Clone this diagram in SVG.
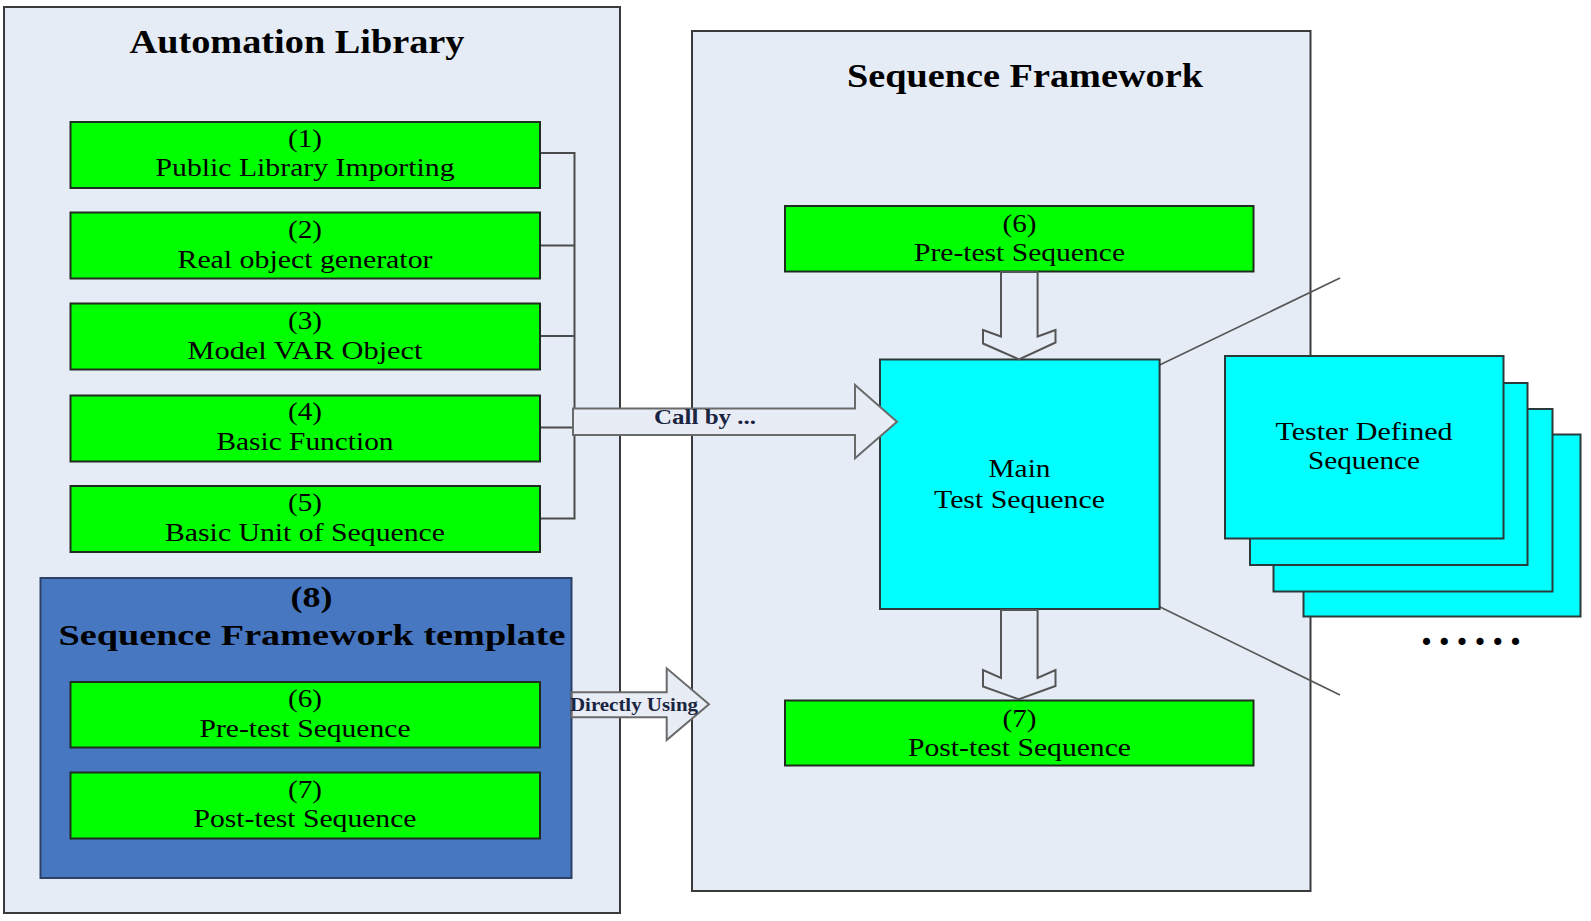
<svg xmlns="http://www.w3.org/2000/svg" width="1591" height="921" viewBox="0 0 1591 921">
<style>
.panel{fill:#e6ecf6;stroke:#3a3a3a;stroke-width:2}
.g{fill:#00ff00;stroke:#1e2e1e;stroke-width:2}
.c{fill:#00ffff;stroke:#2a3a3a;stroke-width:2}
.blue{fill:#4677c0;stroke:#2c4068;stroke-width:2}
.t{font-family:"Liberation Serif","Times New Roman",serif;fill:#000;text-anchor:middle}
.n{font-size:25px}
.h{font-size:33px;font-weight:bold}
.b{font-family:"Liberation Serif","Times New Roman",serif;font-weight:bold;fill:#1a2542}
.arr{fill:#e8ecf4;stroke:#6a6a6a;stroke-width:2}
.darr{fill:#e6ecf6;stroke:#555;stroke-width:2}
.ln{fill:none;stroke:#4a4a4a;stroke-width:2}
.zl{fill:none;stroke:#555;stroke-width:1.6}
</style>
<rect width="1591" height="921" fill="#fff"/>
<g id="automation-library">
<rect class="panel" x="4" y="7" width="616" height="906"/>
<text class="t h" x="297" y="53" textLength="335" lengthAdjust="spacingAndGlyphs">Automation Library</text>
</g>
<g id="sequence-framework">
<rect class="panel" x="692" y="31" width="618.5" height="860"/>
<text class="t h" x="1025" y="87" textLength="356" lengthAdjust="spacingAndGlyphs">Sequence Framework</text>
</g>
<g id="connectors">
<path class="ln" d="M540 153H574.5V518.5H540M540 245.5H574.5M540 336H574.5M540 427.5H574.5"/>
<path class="zl" d="M1159.6 365L1340 278M1159.6 606.7L1340 695"/>
</g>
<g id="n1"><rect class="g" x="70.5" y="122" width="469.5" height="66"/>
<text class="t n" x="305" y="147" textLength="34" lengthAdjust="spacingAndGlyphs">(1)</text>
<text class="t n" x="305" y="176" textLength="299" lengthAdjust="spacingAndGlyphs">Public Library Importing</text></g>
<g id="n2"><rect class="g" x="70.5" y="212.5" width="469.5" height="66"/>
<text class="t n" x="305" y="238" textLength="34" lengthAdjust="spacingAndGlyphs">(2)</text>
<text class="t n" x="305" y="268" textLength="255" lengthAdjust="spacingAndGlyphs">Real object generator</text></g>
<g id="n3"><rect class="g" x="70.5" y="303.5" width="469.5" height="66"/>
<text class="t n" x="305" y="329" textLength="34" lengthAdjust="spacingAndGlyphs">(3)</text>
<text class="t n" x="305" y="358.5" textLength="235" lengthAdjust="spacingAndGlyphs">Model VAR Object</text></g>
<g id="n4"><rect class="g" x="70.5" y="395.5" width="469.5" height="66"/>
<text class="t n" x="305" y="420" textLength="34" lengthAdjust="spacingAndGlyphs">(4)</text>
<text class="t n" x="305" y="449.5" textLength="177" lengthAdjust="spacingAndGlyphs">Basic Function</text></g>
<g id="n5"><rect class="g" x="70.5" y="486" width="469.5" height="66"/>
<text class="t n" x="305" y="510.5" textLength="34" lengthAdjust="spacingAndGlyphs">(5)</text>
<text class="t n" x="305" y="541" textLength="280" lengthAdjust="spacingAndGlyphs">Basic Unit of Sequence</text></g>
<g id="n8"><rect class="blue" x="40.5" y="578" width="531" height="300"/>
<text class="t" x="311.5" y="606.5" font-size="30" font-weight="bold" textLength="42" lengthAdjust="spacingAndGlyphs">(8)</text>
<text class="t" x="312" y="645" font-size="30" font-weight="bold" textLength="507" lengthAdjust="spacingAndGlyphs">Sequence Framework template</text></g>
<g id="n8-6"><rect class="g" x="70.5" y="682" width="469.5" height="65.5"/>
<text class="t n" x="305" y="707" textLength="34" lengthAdjust="spacingAndGlyphs">(6)</text>
<text class="t n" x="305" y="736.5" textLength="211" lengthAdjust="spacingAndGlyphs">Pre-test Sequence</text></g>
<g id="n8-7"><rect class="g" x="70.5" y="772.5" width="469.5" height="66"/>
<text class="t n" x="305" y="797.5" textLength="34" lengthAdjust="spacingAndGlyphs">(7)</text>
<text class="t n" x="305" y="827" textLength="223" lengthAdjust="spacingAndGlyphs">Post-test Sequence</text></g>
<g id="pre-test"><rect class="g" x="785" y="206" width="468.5" height="65.5"/>
<text class="t n" x="1019.5" y="231.5" textLength="34" lengthAdjust="spacingAndGlyphs">(6)</text>
<text class="t n" x="1019.5" y="261" textLength="211" lengthAdjust="spacingAndGlyphs">Pre-test Sequence</text></g>
<g id="main-test"><rect class="c" x="880" y="359.5" width="279.6" height="249.5"/>
<text class="t n" x="1019.5" y="477" textLength="62" lengthAdjust="spacingAndGlyphs">Main</text>
<text class="t n" x="1019.5" y="508" textLength="171" lengthAdjust="spacingAndGlyphs">Test Sequence</text></g>
<g id="post-test"><rect class="g" x="785" y="700.5" width="468.5" height="65"/>
<text class="t n" x="1019.5" y="726.5" textLength="34" lengthAdjust="spacingAndGlyphs">(7)</text>
<text class="t n" x="1019.5" y="756" textLength="223" lengthAdjust="spacingAndGlyphs">Post-test Sequence</text></g>
<g id="tester-defined">
<rect class="c" x="1303.5" y="434.5" width="277" height="182"/>
<rect class="c" x="1273.5" y="409" width="279" height="182.5"/>
<rect class="c" x="1250" y="383" width="277.5" height="182"/>
<rect class="c" x="1225" y="356" width="278.5" height="182.5"/>
<text class="t" x="1364" y="440" font-size="26" textLength="177" lengthAdjust="spacingAndGlyphs">Tester Defined</text>
<text class="t" x="1364" y="469" font-size="26" textLength="112" lengthAdjust="spacingAndGlyphs">Sequence</text>
</g>
<g id="more"><text class="t" x="1471" y="645" font-size="44" font-weight="bold" textLength="100" lengthAdjust="spacing">......</text></g>
<g id="arrows">
<polygon class="arr" points="573,408.5 855,408.5 855,385 897,421.7 855,458.3 855,435 573,435"/>
<text class="b" x="654" y="424" font-size="20" textLength="102" lengthAdjust="spacingAndGlyphs">Call by ...</text>
<polygon class="arr" points="571.7,692.3 666.7,692.3 666.7,668.3 709,704.3 666.7,740 666.7,717.3 571.7,717.3"/>
<text class="b" x="570" y="711" font-size="18" textLength="128" lengthAdjust="spacingAndGlyphs">Directly Using</text>
<polygon class="darr" points="1001,272 1001,336.5 983,330 983,343.5 1019,359.3 1055.5,342.5 1055.5,330 1037.6,336.5 1037.6,272"/>
<polygon class="darr" points="1001,610 1001,678 983,670 983,686.5 1019,699.3 1055.5,686 1055.5,670 1037.6,678 1037.6,610"/>
</g>
</svg>
